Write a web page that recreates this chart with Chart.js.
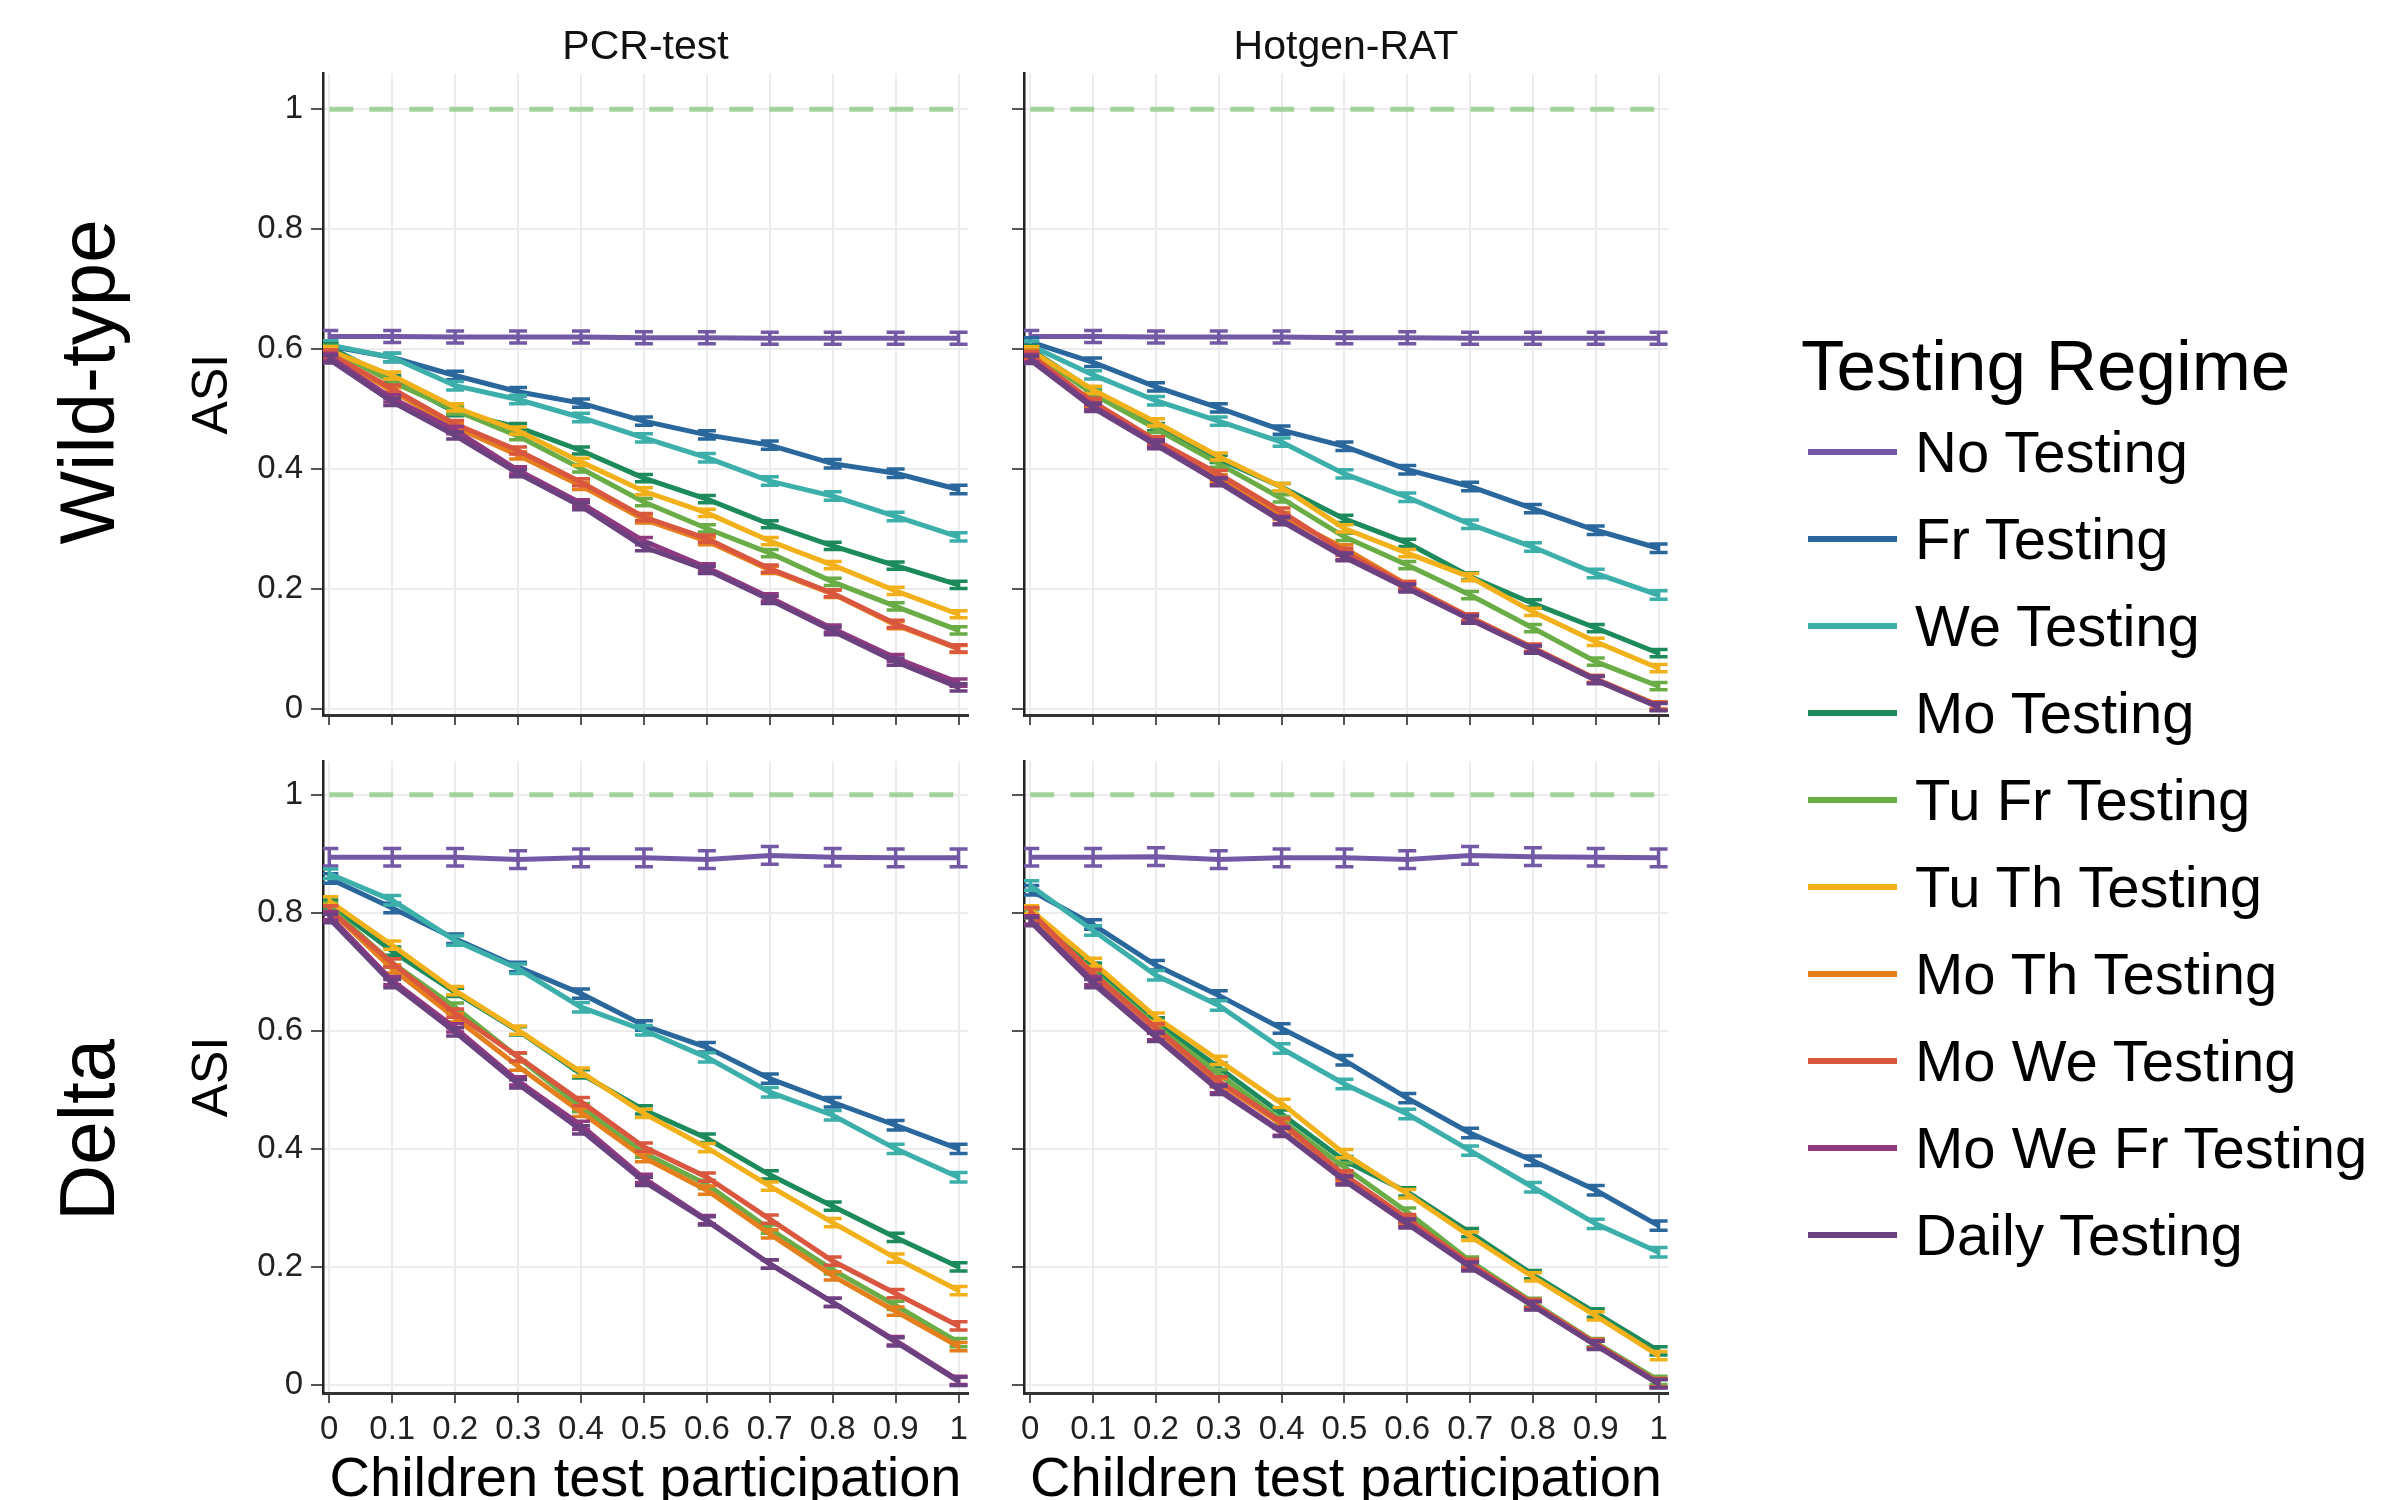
<!DOCTYPE html>
<html>
<head>
<meta charset="utf-8">
<script src="https://cdn.jsdelivr.net/npm/chart.js@4.4.0/dist/chart.umd.min.js"></script>
<style>
  html, body { margin: 0; padding: 0; background: #fff; width: 2387px; height: 1500px; overflow: hidden;
    font-family: "Liberation Sans", Arial, sans-serif; }
  .panel { position: absolute; }
  .row-label { position: absolute; font-size: 78px; color: #000; white-space: nowrap; line-height: 1;
    transform: translate(-50%, -50%) rotate(-90deg); }
  #legendTitle { position: absolute; left: 1801px; top: 330px; font-size: 71px; line-height: 1; color: #000; white-space: nowrap; }
  .leg-row { position: absolute; left: 1808px; height: 0; }
  .leg-line { position: absolute; left: 0; top: -3px; width: 89px; height: 6px; }
  .leg-text { position: absolute; left: 107px; top: -29px; font-size: 58px; line-height: 58px; color: #000; white-space: nowrap; }
</style>
</head>
<body>

<div class="panel" style="left:140px;top:0;width:840px;height:745px"><canvas id="wildPcrChart"></canvas></div>
<div class="panel" style="left:1004px;top:0;width:676px;height:745px"><canvas id="wildRatChart"></canvas></div>
<div class="panel" style="left:140px;top:720px;width:840px;height:810px"><canvas id="deltaPcrChart"></canvas></div>
<div class="panel" style="left:1004px;top:720px;width:676px;height:810px"><canvas id="deltaRatChart"></canvas></div>

<div class="row-label" style="left:87px;top:382px">Wild-type</div>
<div class="row-label" style="left:87px;top:1130px">Delta</div>

<div id="legendTitle">Testing Regime</div>
<div id="legend"></div>

<script>
// x values and tick labels
const participation = [0, 0.1, 0.2, 0.3, 0.4, 0.5, 0.6, 0.7, 0.8, 0.9, 1];
const yTicks = [0, 0.2, 0.4, 0.6, 0.8, 1];
const refLevel = 1;

const regimes = ["No Testing", "Fr Testing", "We Testing", "Mo Testing", "Tu Fr Testing",
    "Tu Th Testing", "Mo Th Testing", "Mo We Testing", "Mo We Fr Testing", "Daily Testing"];
const regimeColors = ["#7358a6", "#2a679d", "#3cafab", "#1d8a5c", "#6aad47",
    "#f2b11a", "#e57f1e", "#d9573f", "#8f3a80", "#6b4180"];

// ASI, one row per regime (same order as above)
const wildPcr = [
    [0.621, 0.621, 0.620, 0.620, 0.620, 0.619, 0.619, 0.618, 0.618, 0.618, 0.618],
    [0.605, 0.586, 0.556, 0.529, 0.510, 0.480, 0.457, 0.440, 0.409, 0.393, 0.366],
    [0.607, 0.586, 0.539, 0.516, 0.486, 0.452, 0.419, 0.380, 0.355, 0.321, 0.287],
    [0.603, 0.550, 0.495, 0.470, 0.431, 0.385, 0.350, 0.308, 0.272, 0.239, 0.207],
    [0.600, 0.545, 0.498, 0.455, 0.401, 0.345, 0.301, 0.260, 0.212, 0.171, 0.131],
    [0.598, 0.556, 0.503, 0.464, 0.412, 0.363, 0.327, 0.280, 0.240, 0.197, 0.158],
    [0.592, 0.530, 0.470, 0.423, 0.372, 0.316, 0.280, 0.232, 0.192, 0.140, 0.100],
    [0.593, 0.534, 0.475, 0.431, 0.378, 0.320, 0.284, 0.234, 0.193, 0.142, 0.101],
    [0.587, 0.518, 0.465, 0.398, 0.343, 0.280, 0.236, 0.186, 0.134, 0.085, 0.044],
    [0.583, 0.512, 0.456, 0.393, 0.338, 0.270, 0.232, 0.182, 0.130, 0.079, 0.036]
];

const wildRat = [
    [0.621, 0.621, 0.620, 0.620, 0.620, 0.619, 0.619, 0.618, 0.618, 0.618, 0.618],
    [0.612, 0.578, 0.537, 0.502, 0.465, 0.438, 0.399, 0.371, 0.334, 0.298, 0.268],
    [0.606, 0.557, 0.514, 0.480, 0.445, 0.392, 0.353, 0.308, 0.270, 0.226, 0.190],
    [0.600, 0.531, 0.470, 0.417, 0.370, 0.317, 0.277, 0.221, 0.176, 0.135, 0.093],
    [0.597, 0.525, 0.467, 0.409, 0.351, 0.287, 0.240, 0.190, 0.135, 0.079, 0.038],
    [0.598, 0.532, 0.478, 0.421, 0.370, 0.301, 0.260, 0.220, 0.162, 0.112, 0.068],
    [0.592, 0.510, 0.447, 0.385, 0.322, 0.268, 0.207, 0.153, 0.102, 0.050, 0.006],
    [0.590, 0.512, 0.448, 0.392, 0.329, 0.262, 0.206, 0.153, 0.102, 0.050, 0.005],
    [0.585, 0.505, 0.443, 0.380, 0.315, 0.255, 0.203, 0.150, 0.100, 0.049, 0.004],
    [0.582, 0.502, 0.440, 0.378, 0.313, 0.253, 0.201, 0.149, 0.099, 0.048, 0.003]
];

const deltaPcr = [
    [0.894, 0.894, 0.894, 0.890, 0.893, 0.893, 0.890, 0.897, 0.894, 0.893, 0.893],
    [0.858, 0.808, 0.756, 0.708, 0.663, 0.609, 0.572, 0.519, 0.479, 0.440, 0.400],
    [0.866, 0.821, 0.753, 0.705, 0.640, 0.601, 0.555, 0.496, 0.457, 0.400, 0.352],
    [0.815, 0.735, 0.665, 0.600, 0.527, 0.466, 0.418, 0.356, 0.303, 0.250, 0.200],
    [0.810, 0.715, 0.640, 0.555, 0.470, 0.393, 0.340, 0.264, 0.195, 0.135, 0.072],
    [0.820, 0.745, 0.668, 0.601, 0.530, 0.460, 0.402, 0.337, 0.275, 0.215, 0.160],
    [0.805, 0.705, 0.622, 0.540, 0.462, 0.385, 0.330, 0.256, 0.185, 0.125, 0.065],
    [0.805, 0.715, 0.630, 0.556, 0.480, 0.403, 0.352, 0.281, 0.210, 0.155, 0.100],
    [0.795, 0.685, 0.605, 0.515, 0.440, 0.350, 0.280, 0.205, 0.140, 0.075, 0.008],
    [0.790, 0.680, 0.598, 0.510, 0.432, 0.345, 0.278, 0.205, 0.140, 0.073, 0.006]
];

const deltaRat = [
    [0.894, 0.894, 0.895, 0.890, 0.893, 0.893, 0.890, 0.897, 0.895, 0.894, 0.893],
    [0.838, 0.780, 0.711, 0.660, 0.604, 0.550, 0.486, 0.427, 0.380, 0.330, 0.270],
    [0.846, 0.770, 0.694, 0.643, 0.570, 0.510, 0.459, 0.397, 0.335, 0.273, 0.225],
    [0.800, 0.708, 0.615, 0.538, 0.459, 0.380, 0.327, 0.258, 0.187, 0.122, 0.058],
    [0.798, 0.700, 0.608, 0.527, 0.448, 0.369, 0.293, 0.210, 0.140, 0.072, 0.008],
    [0.805, 0.716, 0.623, 0.550, 0.477, 0.392, 0.324, 0.252, 0.183, 0.117, 0.050],
    [0.800, 0.695, 0.603, 0.512, 0.442, 0.354, 0.280, 0.204, 0.138, 0.070, 0.004],
    [0.802, 0.697, 0.605, 0.515, 0.445, 0.356, 0.282, 0.206, 0.138, 0.070, 0.004],
    [0.788, 0.685, 0.592, 0.502, 0.430, 0.348, 0.275, 0.202, 0.135, 0.068, 0.003],
    [0.785, 0.680, 0.589, 0.499, 0.428, 0.346, 0.273, 0.200, 0.134, 0.067, 0.002]
];

// half-width of the error bars, per regime
const wildErr = [0.010, 0.007, 0.007, 0.006, 0.006, 0.006, 0.006, 0.006, 0.006, 0.006];
const deltaErr = [0.015, 0.008, 0.008, 0.007, 0.007, 0.007, 0.007, 0.007, 0.007, 0.007];

const FONT = "'Liberation Sans', Arial, sans-serif";

// draws I-shaped error bars right after each line so stacking matches
const errorBars = {
    id: "errorBars",
    afterDatasetDraw(chart, args) {
        const ds = chart.data.datasets[args.index];
        if (!ds.err) return;
        const ctx = chart.ctx;
        const xs = chart.scales.x, ys = chart.scales.y;
        const area = chart.chartArea;
        ctx.save();
        ctx.beginPath();
        ctx.rect(area.left, area.top, area.right - area.left, area.bottom - area.top);
        ctx.clip();
        ctx.strokeStyle = ds.borderColor;
        ctx.lineWidth = 3.5;
        ds.data.forEach(p => {
            const x = xs.getPixelForValue(p.x);
            const lo = ys.getPixelForValue(p.y - ds.err);
            const hi = ys.getPixelForValue(p.y + ds.err);
            ctx.beginPath();
            ctx.moveTo(x, lo); ctx.lineTo(x, hi);
            ctx.moveTo(x - 9, lo); ctx.lineTo(x + 9, lo);
            ctx.moveTo(x - 9, hi); ctx.lineTo(x + 9, hi);
            ctx.stroke();
        });
        ctx.restore();
    }
};

function makePanel(id, rows, errs, cfg) {
    const datasets = rows.map((vals, i) => ({
        label: regimes[i],
        data: vals.map((v, j) => ({ x: participation[j], y: v })),
        err: errs[i],
        borderColor: regimeColors[i],
        backgroundColor: regimeColors[i],
        borderWidth: 5,
        pointRadius: 0,
        tension: 0,
        order: rows.length - i
    }));
    datasets.push({
        label: "reference",
        data: [{ x: participation[0], y: refLevel }, { x: participation[participation.length - 1], y: refLevel }],
        borderColor: "rgba(150, 205, 140, 0.85)",
        borderWidth: 5,
        borderDash: [24, 16],
        pointRadius: 0,
        order: rows.length + 1
    });

    return new Chart(document.getElementById(id), {
        type: "line",
        data: { datasets },
        plugins: [errorBars],
        options: {
            responsive: true,
            maintainAspectRatio: false,
            animation: false,
            layout: { padding: { top: cfg.padTop, right: 12, bottom: 0, left: 0 } },
            plugins: {
                legend: { display: false },
                tooltip: { enabled: false },
                title: {
                    display: !!cfg.title,
                    text: cfg.title || "",
                    fullSize: false,
                    color: "#111",
                    font: { family: FONT, size: 41, weight: "normal" },
                    padding: { top: 23, bottom: 1 }
                }
            },
            scales: {
                x: {
                    type: "linear",
                    bounds: "data",
                    min: -0.01,
                    max: 1.015,
                    afterBuildTicks: s => { s.ticks = participation.map(v => ({ value: v })); },
                    afterFit: s => { s.height = cfg.xHeight; },
                    grid: { color: "#ececec", lineWidth: 2, tickLength: 10, tickColor: "#555", tickWidth: 2 },
                    border: { color: "#333", width: 3 },
                    ticks: {
                        display: cfg.xLabels,
                        color: "#222",
                        padding: 7,
                        maxRotation: 0,
                        autoSkip: false,
                        font: { family: FONT, size: 33 },
                        callback: v => String(+v.toFixed(1))
                    },
                    title: {
                        display: cfg.xLabels,
                        text: "Children test participation",
                        color: "#000",
                        font: { family: FONT, size: 56 },
                        padding: { top: 0, bottom: 16 }
                    }
                },
                y: {
                    type: "linear",
                    bounds: "data",
                    min: cfg.yMin,
                    max: cfg.yMax,
                    afterBuildTicks: s => { s.ticks = yTicks.map(v => ({ value: v })); },
                    afterFit: s => { s.width = cfg.yWidth; },
                    grid: { color: "#ececec", lineWidth: 2, tickLength: 12, tickColor: "#555", tickWidth: 2 },
                    border: { color: "#222", width: 2.5 },
                    ticks: {
                        display: cfg.yLabels,
                        color: "#222",
                        padding: 8,
                        font: { family: FONT, size: 33 },
                        callback: v => String(+v.toFixed(1))
                    },
                    title: {
                        display: cfg.yLabels,
                        text: "ASI",
                        color: "#000",
                        font: { family: FONT, size: 50 },
                        padding: { top: 43, bottom: 0 }
                    }
                }
            }
        }
    });
}

makePanel("wildPcrChart", wildPcr, wildErr,
    { title: "PCR-test", padTop: 0, xHeight: 30, xLabels: false, yLabels: true, yWidth: 183, yMin: -0.01, yMax: 1.06 });
makePanel("wildRatChart", wildRat, wildErr,
    { title: "Hotgen-RAT", padTop: 0, xHeight: 30, xLabels: false, yLabels: false, yWidth: 20, yMin: -0.01, yMax: 1.06 });
makePanel("deltaPcrChart", deltaPcr, deltaErr,
    { title: "", padTop: 41, xHeight: 137, xLabels: true, yLabels: true, yWidth: 183, yMin: -0.0135, yMax: 1.057 });
makePanel("deltaRatChart", deltaRat, deltaErr,
    { title: "", padTop: 41, xHeight: 137, xLabels: true, yLabels: false, yWidth: 20, yMin: -0.0135, yMax: 1.057 });

// legend
const legend = document.getElementById("legend");
regimes.forEach((name, i) => {
    const row = document.createElement("div");
    row.className = "leg-row";
    row.style.top = (452 + i * 87) + "px";
    row.innerHTML = `<div class="leg-line" style="background:${regimeColors[i]}"></div><div class="leg-text">${name}</div>`;
    legend.appendChild(row);
});
</script>
</body>
</html>
